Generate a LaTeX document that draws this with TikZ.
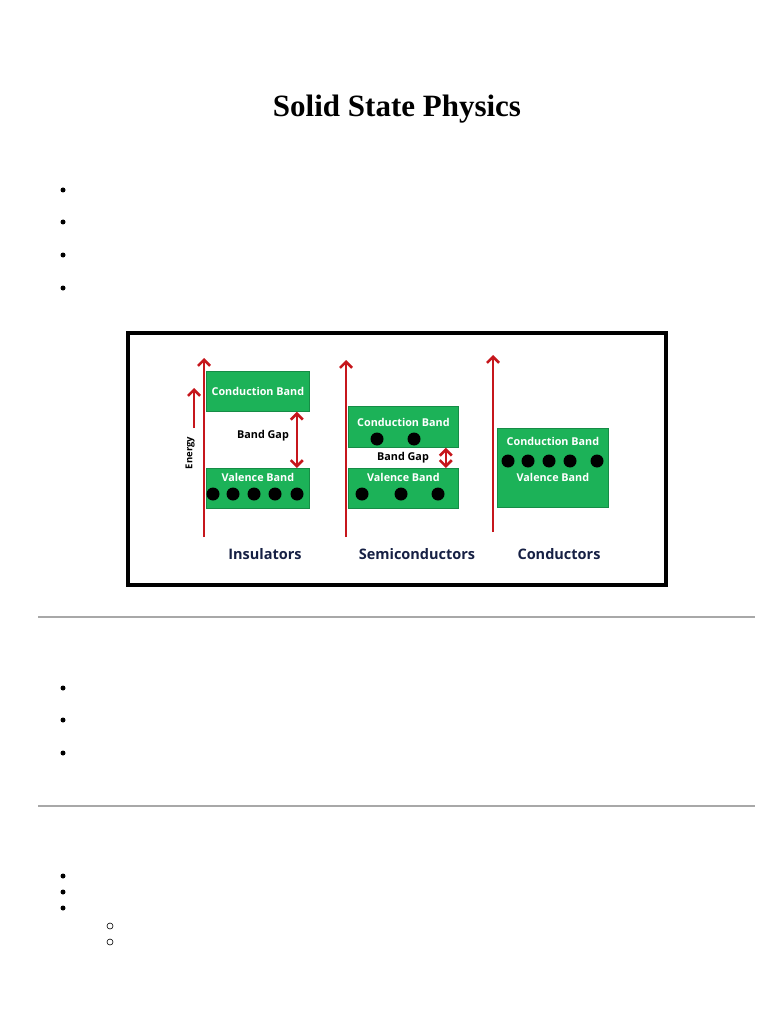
\documentclass[tikz,border=0pt]{standalone}
\usepackage{fontspec}
\setmainfont{Liberation Serif}
\newfontfamily\bandfont{Open Sans}
\usetikzlibrary{arrows.meta,positioning,calc}
\definecolor{bandgreen}{RGB}{28,178,88}
\definecolor{bandedge}{RGB}{22,140,70}
\definecolor{axisred}{RGB}{198,22,28}
\definecolor{labelnavy}{RGB}{22,32,68}
\definecolor{rulegray}{RGB}{168,168,168}

\begin{document}
\begin{tikzpicture}[
  x=1pt, y=-1pt,
  font=\bandfont,
  >={Straight Barb[length=6pt,width=12pt]},
  band/.style={rectangle, draw=bandedge, fill=bandgreen, line width=0.8pt, inner sep=0pt, anchor=north west},
  bandlbl/.style={text=white, font=\bandfont\bfseries\fontsize{10.8}{12}\selectfont, inner sep=0pt},
  electron/.style={circle, fill=black, minimum size=13pt, inner sep=0pt},
  axis/.style={->, line width=2.6pt, draw=axisred},
  gap/.style={<->, line width=2.6pt, draw=axisred},
  gaplbl/.style={font=\bandfont\bfseries\fontsize{10.8}{12}\selectfont, inner sep=0pt},
  kind/.style={text=labelnavy, font=\bandfont\bfseries\fontsize{14.5}{16}\selectfont, inner sep=0pt},
  bullet/.style={circle, fill=black, minimum size=5pt, inner sep=0pt},
  subbullet/.style={circle, draw=black, line width=0.6pt, minimum size=6pt, inner sep=0pt},
  frame/.style={line width=3.5pt, draw=black},
  rule/.style={line width=2pt, draw=rulegray},
]
\fill[white] (0,0) rectangle (768,1024);
\useasboundingbox (0,0) rectangle (768,1024);

% page
\node[anchor=base, font=\rmfamily\bfseries\fontsize{31}{35}\selectfont] (title) at (397,117) {Solid State Physics};
\foreach \y in {190,222,255,288} \node[bullet] (top\y) at (63,\y) {};
\draw[frame] (128,333) rectangle (666,585);
\draw[rule] (38,617) -- (755,617);
\foreach \y in {688,720,753} \node[bullet] (mid\y) at (63,\y) {};
\draw[rule] (38,806) -- (755,806);
\foreach \y in {876,892,908} \node[bullet] (low\y) at (63,\y) {};
\foreach \y in {926,942} \node[subbullet] (sub\y) at (110,\y) {};

% insulators
\node[band, minimum width=103pt, minimum height=40pt] (ins-cb) at (206,371) {};
\node[band, minimum width=103pt, minimum height=40pt] (ins-vb) at (206,468) {};
\node[bandlbl] (ins-cbl) at (ins-cb.center) {Conduction Band};
\node[bandlbl] (ins-vbl) at ($(ins-vb.north)+(0,9)$) {Valence Band};
\foreach \x in {213,233,254,275,297} \node[electron] (ins-e\x) at (\x,494) {};
\coordinate (ins-base) at (204,537);
\coordinate (ins-tip) at (204,358);
\draw[axis] (ins-base) -- (ins-tip);
\coordinate (en-base) at (194,428);
\coordinate (en-tip) at (194,388);
\draw[axis] (en-base) -- (en-tip);
\node[gaplbl, rotate=90, font=\bandfont\bfseries\fontsize{9.5}{10}\selectfont] (energy) at (190,453) {Energy};
\node[gaplbl] (ins-gap) at (263,436) {Band Gap};
\draw[gap] ($(ins-cb.south east)+(-13,0)$) -- ($(ins-vb.north east)+(-13,0)$);
\node[kind] (ins) at (265,554) {Insulators};

% semiconductors
\node[band, minimum width=110pt, minimum height=41pt] (sem-cb) at (348,406) {};
\node[band, minimum width=110pt, minimum height=40pt] (sem-vb) at (348,468) {};
\node[bandlbl] (sem-cbl) at ($(sem-cb.north)+(0,16)$) {Conduction Band};
\node[bandlbl] (sem-vbl) at ($(sem-vb.north)+(0,9)$) {Valence Band};
\foreach \x in {377,414} \node[electron] (sem-c\x) at (\x,439) {};
\foreach \x in {362,401,438} \node[electron] (sem-v\x) at (\x,494) {};
\coordinate (sem-base) at (346,537);
\coordinate (sem-tip) at (346,360);
\draw[axis] (sem-base) -- (sem-tip);
\node[gaplbl] (sem-gap) at (403,458) {Band Gap};
\draw[gap] ($(sem-cb.south east)+(-13,0)$) -- ($(sem-vb.north east)+(-13,0)$);
\node[kind] (sem) at (417,554) {Semiconductors};

% conductors
\node[band, minimum width=111pt, minimum height=79pt] (con-b) at (497,428) {};
\node[bandlbl] (con-cbl) at ($(con-b.north)+(0,13)$) {Conduction Band};
\node[bandlbl] (con-vbl) at ($(con-b.north)+(0,49)$) {Valence Band};
\foreach \x in {508,528,549,570,597} \node[electron] (con-e\x) at (\x,461) {};
\coordinate (con-base) at (493,532);
\coordinate (con-tip) at (493,355);
\draw[axis] (con-base) -- (con-tip);
\node[kind] (con) at (559,554) {Conductors};

\end{tikzpicture}
\end{document}
